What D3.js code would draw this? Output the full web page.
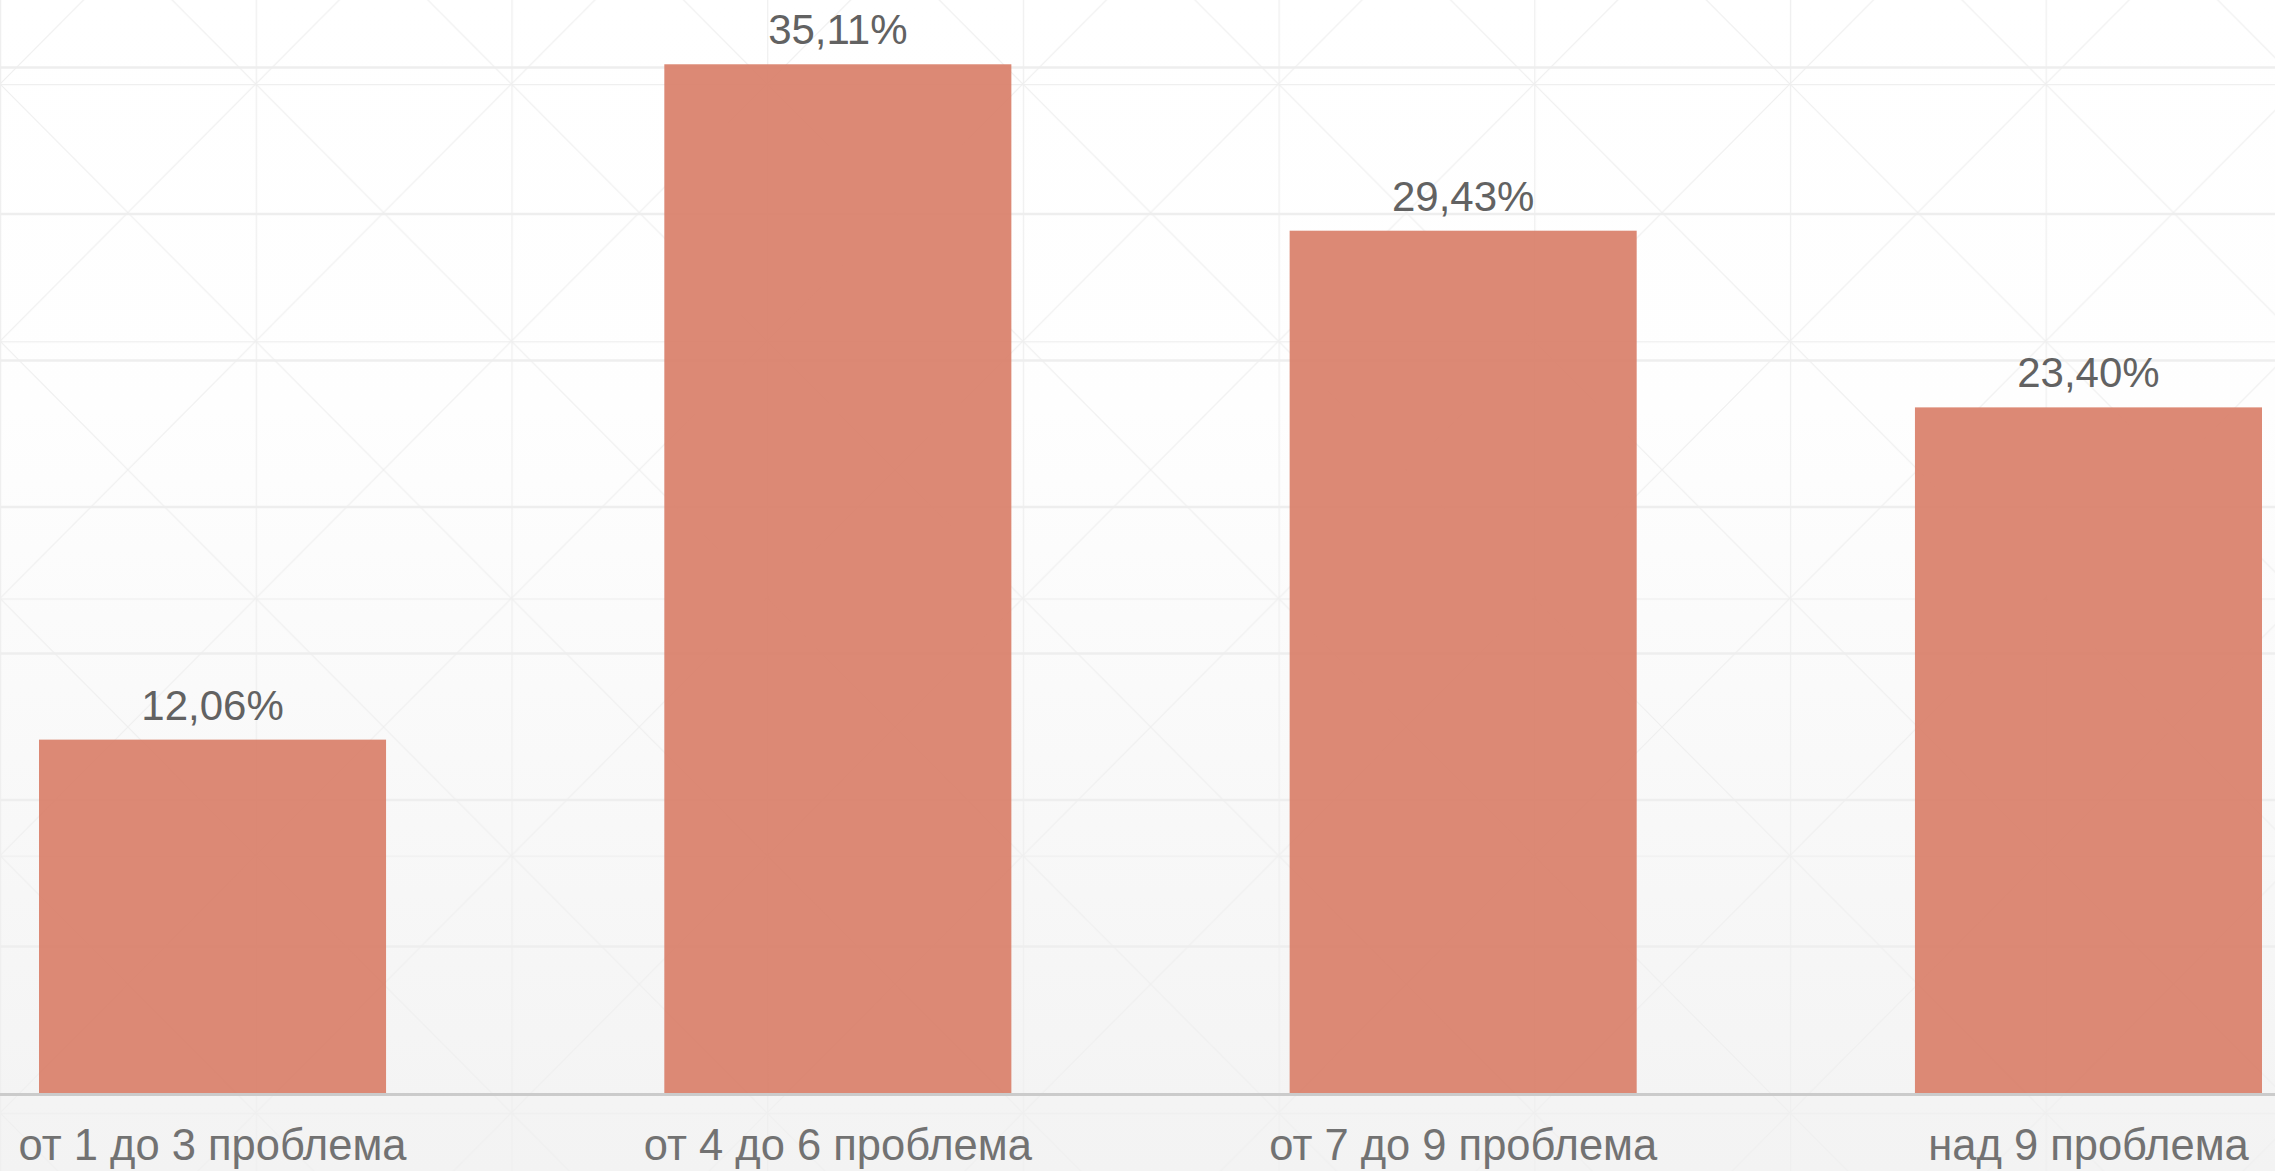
<!DOCTYPE html>
<html>
<head>
<meta charset="utf-8">
<script src="https://cdn.jsdelivr.net/npm/d3@7"></script>
<style>
  html, body { margin: 0; padding: 0; overflow: hidden; background: #fff; }
  svg { display: block; }
</style>
</head>
<body>
<svg id="chart" width="2275" height="1171"></svg>
<script>
// ---- data ----
const categories = ["от 1 до 3 проблема", "от 4 до 6 проблема", "от 7 до 9 проблема", "над 9 проблема"];
const values = [12.06, 35.11, 29.43, 23.40];
const valueLabels = ["12,06%", "35,11%", "29,43%", "23,40%"];
const gridTicks = [0, 5, 10, 15, 20, 25, 30, 35];

const W = 2275, H = 1171;
const svg = d3.select("#chart");
const defs = svg.append("defs");

// background gradient
const grad = defs.append("linearGradient").attr("id", "bg").attr("x1", 0).attr("y1", 0).attr("x2", 0).attr("y2", 1);
grad.append("stop").attr("offset", "0%").attr("stop-color", "#ffffff");
grad.append("stop").attr("offset", "35%").attr("stop-color", "#fefefe");
grad.append("stop").attr("offset", "100%").attr("stop-color", "#f3f3f3");
svg.append("rect").attr("width", W).attr("height", H).attr("fill", "url(#bg)");

// decorative lattice pattern
const pw = 255.7, ph = 257.2, py = 84;
const pat = defs.append("pattern").attr("id", "lattice").attr("patternUnits", "userSpaceOnUse")
  .attr("x", 0).attr("y", py).attr("width", pw).attr("height", ph);
const lc = "#efefef";
pat.append("line").attr("x1", 0).attr("y1", 0).attr("x2", pw).attr("y2", 0).attr("stroke", lc).attr("stroke-width", 2.5);
pat.append("line").attr("x1", 0).attr("y1", 0).attr("x2", 0).attr("y2", ph).attr("stroke", lc).attr("stroke-width", 2.5);
pat.append("line").attr("x1", 0).attr("y1", 0).attr("x2", pw).attr("y2", ph).attr("stroke", lc).attr("stroke-width", 1.2);
pat.append("line").attr("x1", pw).attr("y1", 0).attr("x2", 0).attr("y2", ph).attr("stroke", lc).attr("stroke-width", 1.2);
svg.append("rect").attr("width", W).attr("height", H).attr("fill", "url(#lattice)");

// scales
const baseY = 1093;
const x = d3.scaleBand().domain(categories).range([39, 2262]).paddingInner(0.445).paddingOuter(0);
const y = d3.scaleLinear().domain([0, 35]).range([baseY, 67.5]);

// gridlines
svg.append("g").selectAll("line").data(gridTicks.filter(t => t > 0)).join("line")
  .attr("x1", 0).attr("x2", W)
  .attr("y1", d => y(d)).attr("y2", d => y(d))
  .attr("stroke", "#eeeeee").attr("stroke-width", 2.5);

// bars
const data = categories.map((c, i) => ({ c, v: values[i], label: valueLabels[i] }));
svg.append("g").selectAll("rect").data(data).join("rect")
  .attr("x", d => x(d.c)).attr("width", x.bandwidth())
  .attr("y", d => y(d.v)).attr("height", d => y(0) - y(d.v))
  .attr("fill", "#d9806a").attr("fill-opacity", 0.93);

// value labels
svg.append("g").selectAll("text").data(data).join("text")
  .attr("x", d => x(d.c) + x.bandwidth() / 2)
  .attr("y", d => y(d.v) - 20)
  .attr("text-anchor", "middle")
  .attr("font-family", "'Liberation Sans', Arial, sans-serif")
  .attr("font-size", 42)
  .attr("fill", "#626262")
  .text(d => d.label);

// x axis
const ax = svg.append("g").attr("transform", `translate(0,${baseY + 1.5})`)
  .call(d3.axisBottom(x).tickSize(0).tickPadding(0));
ax.select(".domain").attr("d", `M0,0H${W}`).attr("stroke", "#cbcbcb").attr("stroke-width", 3);
ax.selectAll(".tick text")
  .attr("y", 65.5).attr("dy", 0)
  .attr("font-family", "'Liberation Sans', Arial, sans-serif")
  .attr("font-size", 43.5)
  .attr("fill", "#727272");
</script>
</body>
</html>
